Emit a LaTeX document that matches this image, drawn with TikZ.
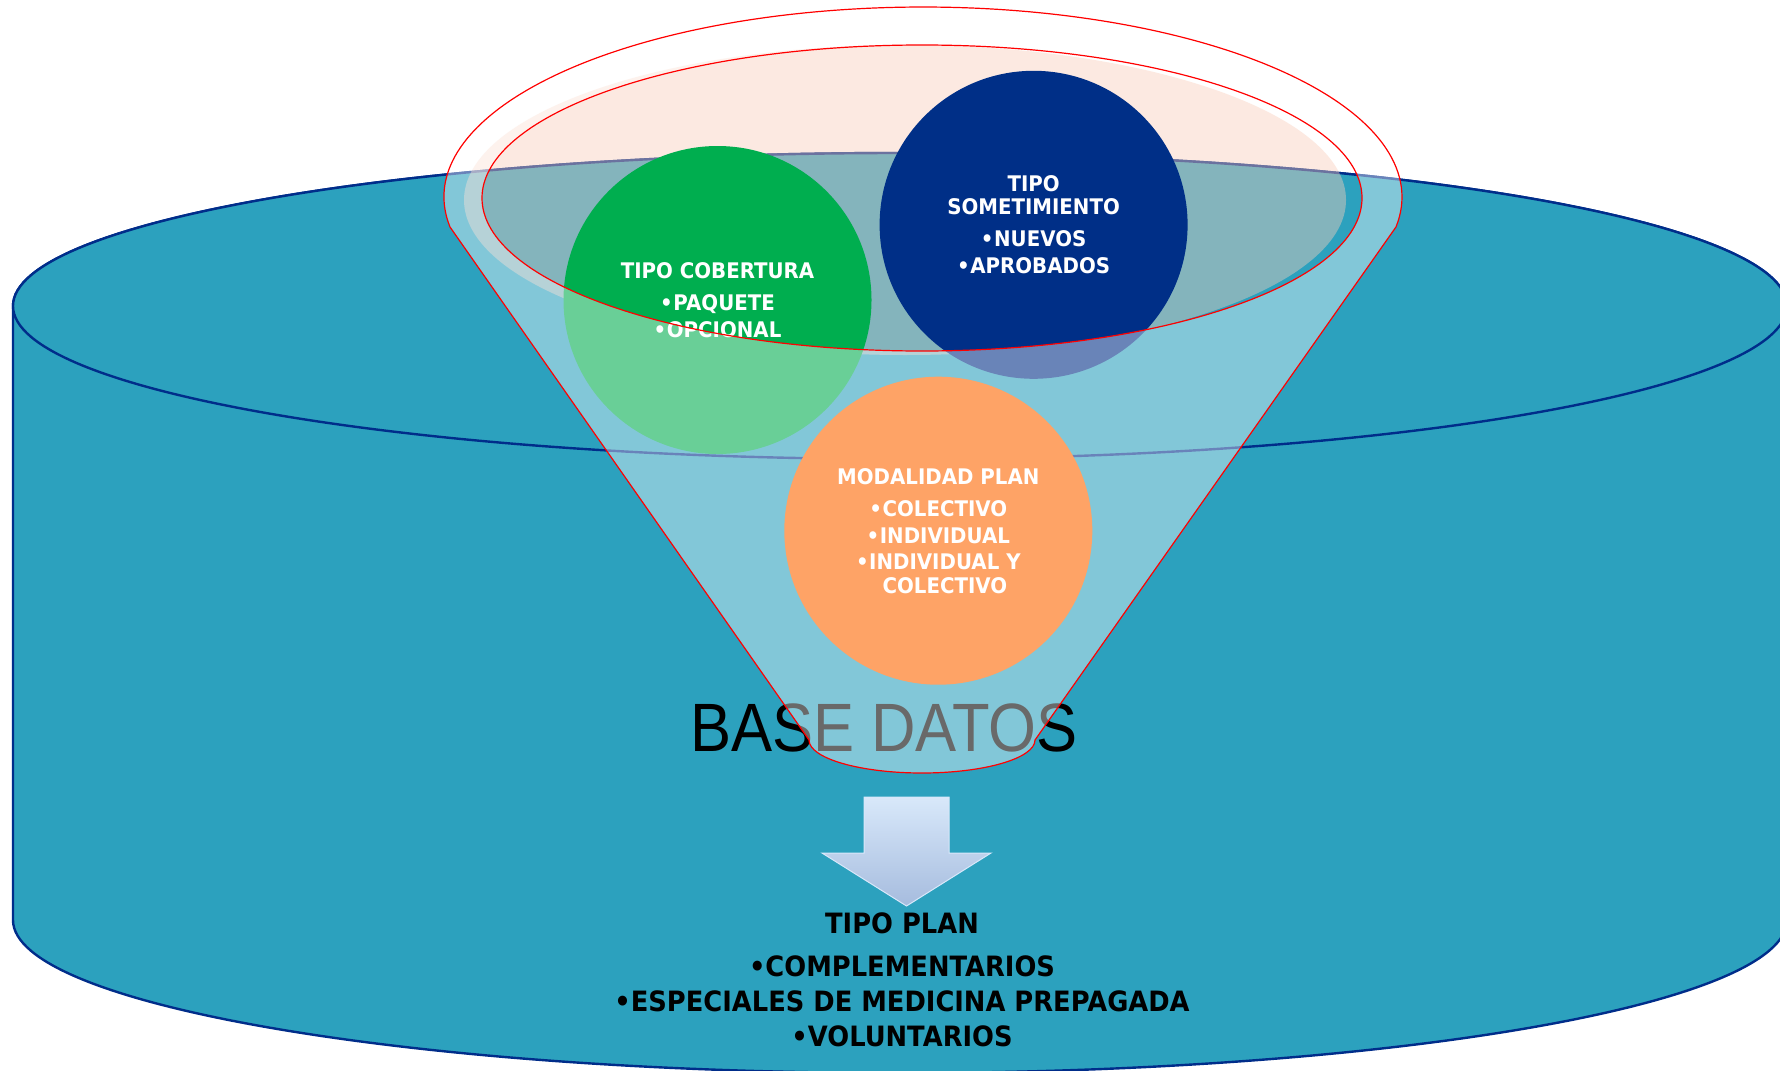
\documentclass[tikz,border=0pt]{standalone}
\usepackage{fontspec}
\usepackage{tikz}
\newfontfamily\tahoma[FakeStretch=0.92]{DejaVu Sans}
\newfontfamily\arial[FakeStretch=0.9]{Liberation Sans}
\definecolor{turquesa}{RGB}{44,161,190}
\definecolor{marino}{RGB}{0,45,138}
\definecolor{verde}{RGB}{0,174,79}
\definecolor{azul}{RGB}{0,47,135}
\definecolor{naranja}{RGB}{254,163,102}
\definecolor{durazno}{RGB}{250,206,187}
\definecolor{cielo}{RGB}{216,232,250}
\definecolor{cieloosc}{RGB}{166,188,222}
\tikzset{
    cil/.style={fill=turquesa, draw=marino, line width=1.2pt},
    bola/.style={circle, minimum size=154pt, inner sep=0pt, text=white, align=center,
        font=\tahoma\bfseries\fontsize{10.75pt}{13.25pt}\selectfont},
    embudo/.style={fill=white, fill opacity=0.41, draw=red, line width=0.6pt, even odd rule},
    flecha/.style={top color=cielo, bottom color=cieloosc, draw=cielo, line width=0.5pt},
}

\begin{document}
\begin{tikzpicture}[x=0.5pt, y=-0.5pt]
        \clip (0,0) rectangle (1780,1070);
        \fill[white] (0,0) rectangle (1780,1070);

        \path[cil] (13,306) -- (13,920) arc[start angle=180, end angle=0, x radius=887, y radius=153]
            -- (1787,306) arc[start angle=0, end angle=-180, x radius=887, y radius=153] -- cycle;
        \draw[cil] (900,306) ellipse[x radius=887, y radius=153];

        \node[font=\arial\fontsize{34.2pt}{40pt}\selectfont] (base) at (884,728) {BASE DATOS};

        \fill[durazno, fill opacity=0.43] (905,200) ellipse[x radius=441, y radius=155];

        \node[bola, fill=verde] (cob) at (717.5,300)
            {TIPO COBERTURA\\[2.75pt] •\kern0.3pt PAQUETE\\ •\kern0.3pt OPCIONAL};
        \node[bola, fill=azul] (som) at (1033.6,224.8)
            {TIPO\\[-1.75pt] SOMETIMIENTO\\[2.75pt] •\kern0.3pt NUEVOS\\ •\kern0.3pt APROBADOS};

        \path[embudo] (450,227) arc[start angle=170.92, end angle=369.08, x radius=479, y radius=190]
            -- (1035,740) arc[start angle=0, end angle=180, x radius=113, y radius=33] -- cycle
            (922,198) ellipse[x radius=440, y radius=153];

        \node[bola, fill=naranja] (mod) at (938.3,530.7)
            {MODALIDAD PLAN\\[3pt] •\kern0.3pt COLECTIVO\\ •\kern0.3pt INDIVIDUAL\\
             •\kern0.3pt INDIVIDUAL Y\\[-1.5pt] \phantom{•\kern0.3pt}COLECTIVO};

        \shade[flecha] (864,797) -- (949,797) -- (949,853) -- (991,853) -- (906.5,906)
            -- (822,853) -- (864,853) -- cycle;

        \node[align=center, font=\tahoma\bfseries\fontsize{14pt}{17.5pt}\selectfont] (plan) at (902,980)
            {TIPO PLAN\\[4pt] •COMPLEMENTARIOS\\ •ESPECIALES DE MEDICINA PREPAGADA\\ •VOLUNTARIOS};
\end{tikzpicture}
\end{document}
